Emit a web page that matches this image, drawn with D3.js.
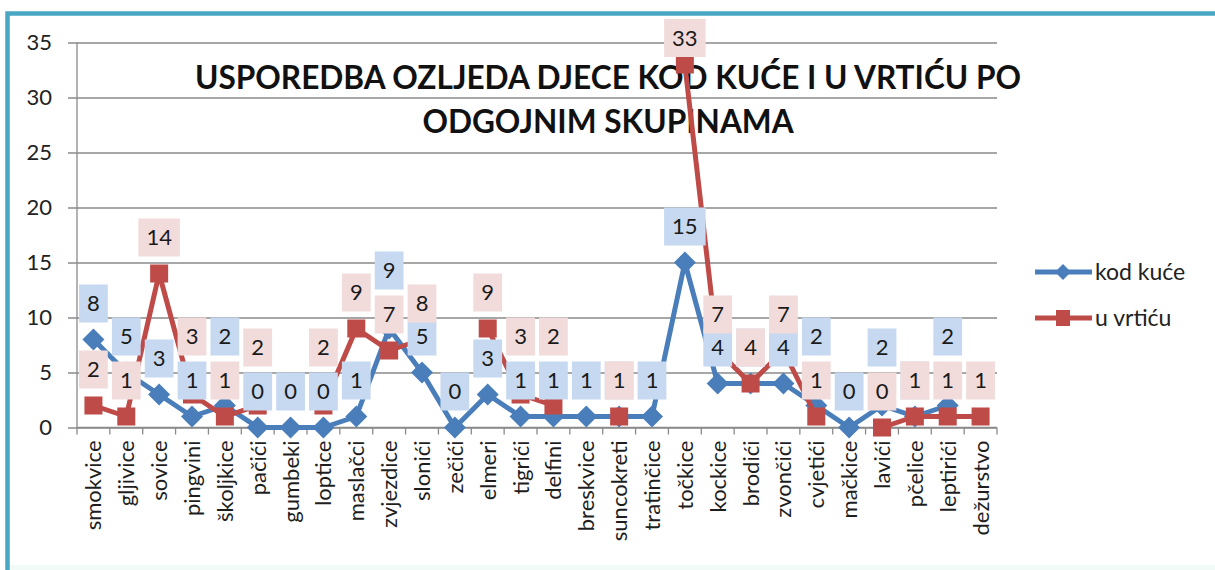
<!DOCTYPE html>
<html>
<head>
<meta charset="utf-8">
<script src="https://cdn.jsdelivr.net/npm/d3@7"></script>
<style>
  html, body { margin: 0; padding: 0; background: #ffffff; }
  svg { display: block; }
  text { font-family: Lato, "Open Sans", "DejaVu Sans", sans-serif; }
</style>
</head>
<body>
<svg id="chart" width="1215" height="570"></svg>
<script>
const categories = ["smokvice","gljivice","sovice","pingvini","školjkice","pačići","gumbeki","loptice","maslačci","zvjezdice","slonići","zečići","elmeri","tigrići","delfini","breskvice","suncokreti","tratinčice","točkice","kockice","brodići","zvončići","cvjetići","mačkice","lavići","pčelice","leptirići","dežurstvo"];
const kodKuce = [8,5,3,1,2,0,0,0,1,9,5,0,3,1,1,1,1,1,15,4,4,4,2,0,2,1,2,null];
const uVrticu = [2,1,14,3,1,2,null,2,9,7,8,null,9,3,2,null,1,null,33,7,4,7,1,null,0,1,1,1];
const yTicks = [0,5,10,15,20,25,30,35];
const seriesNames = ["kod kuće","u vrtiću"];
const titleLines = ["USPOREDBA OZLJEDA DJECE KOD KUĆE I U VRTIĆU PO","ODGOJNIM SKUPINAMA"];

const W = 1215, H = 570;
const plot = {left: 77, right: 997, top: 42.5, bottom: 427.5};
const blue = "#4A7EBB", red = "#BE4B48";
const blueLbl = "#C6D9F0", redLbl = "#F2DCDB";

const svg = d3.select("#chart");

// background + frame
svg.append("rect").attr("x",0).attr("y",0).attr("width",W).attr("height",H).attr("fill","#ffffff");
svg.append("rect").attr("x",8).attr("y",565).attr("width",W).attr("height",10).attr("fill","#f1faf6");

const x = d3.scaleBand().domain(categories).range([plot.left, plot.right]).padding(0);
const y = d3.scaleLinear().domain([0,35]).range([plot.bottom, plot.top]);
const cx = c => x(c) + x.bandwidth()/2;

// gridlines
const yAxis = d3.axisLeft(y).tickValues(yTicks).tickSize(plot.right - plot.left + 9).tickPadding(16).tickFormat(d3.format("d"));
const gy = svg.append("g").attr("transform", `translate(${plot.right},0)`).call(yAxis);
gy.select(".domain").remove();
gy.selectAll(".tick line").attr("stroke","#8a8a8a").attr("stroke-width",1.3);
gy.selectAll(".tick text").attr("font-size",22).attr("fill","#222").attr("x", -(plot.right-plot.left) - 25);

// y axis line
svg.append("line").attr("x1",plot.left).attr("x2",plot.left).attr("y1",plot.top).attr("y2",plot.bottom)
  .attr("stroke","#8a8a8a").attr("stroke-width",1.3);

// x axis with ticks at boundaries
const gx = svg.append("g");
gx.append("line").attr("x1",plot.left).attr("x2",plot.right).attr("y1",plot.bottom).attr("y2",plot.bottom)
  .attr("stroke","#8a8a8a").attr("stroke-width",1.3);
const bounds = categories.map(c => x(c)).concat([plot.right]);
gx.selectAll("line.tk").data(bounds).join("line").attr("class","tk")
  .attr("x1",d=>d).attr("x2",d=>d).attr("y1",plot.bottom).attr("y2",plot.bottom+7)
  .attr("stroke","#8a8a8a").attr("stroke-width",1.3);
gx.selectAll("text").data(categories).join("text")
  .attr("transform", d => `translate(${cx(d)+8},${plot.bottom+13}) rotate(-90)`)
  .attr("text-anchor","end").attr("font-size",22).attr("fill","#1e1e1e").text(d=>d);

// title
const tg = svg.append("g");
const t1 = tg.append("text").attr("x",608).attr("y",89).attr("text-anchor","middle")
  .attr("font-size",32).attr("font-weight","bold").attr("fill","#111").text(titleLines[0]);
const t2 = tg.append("text").attr("x",608).attr("y",133).attr("text-anchor","middle")
  .attr("font-size",32).attr("font-weight","bold").attr("fill","#111").text(titleLines[1]);
const w1 = t1.node().getComputedTextLength(), w2 = t2.node().getComputedTextLength();
const r = 826 / w1;
t1.attr("textLength", w1*r).attr("lengthAdjust","spacingAndGlyphs");
t2.attr("textLength", w2*r).attr("lengthAdjust","spacingAndGlyphs");

// lines
const line = d3.line().defined(d => d.v != null).x(d => cx(d.c)).y(d => y(d.v));
const bData = categories.map((c,i)=>({c, v: kodKuce[i]}));
const rData = categories.map((c,i)=>({c, v: uVrticu[i]}));

svg.append("path").datum(bData).attr("d",line).attr("fill","none").attr("stroke",blue).attr("stroke-width",5).attr("stroke-linejoin","round");
svg.selectAll("path.dia").data(bData.filter(d=>d.v!=null)).join("path").attr("class","dia")
  .attr("d", "M0,-11L11,0L0,11L-11,0Z")
  .attr("transform", d => `translate(${cx(d.c)},${y(d.v)})`)
  .attr("fill",blue);

svg.append("path").datum(rData).attr("d",line).attr("fill","none").attr("stroke",red).attr("stroke-width",5).attr("stroke-linejoin","round");
svg.selectAll("rect.sq").data(rData.filter(d=>d.v!=null)).join("rect").attr("class","sq")
  .attr("x", d => cx(d.c)-9).attr("y", d => y(d.v)-9).attr("width",18).attr("height",18).attr("fill",red);

// data labels with simple overlap avoidance
const lblPos = categories.map((c,i)=>{
  const b = kodKuce[i], rv = uVrticu[i];
  let yb = b!=null ? y(b)-36 : null, yr = rv!=null ? y(rv)-36 : null;
  if (b!=null && rv!=null && b!==rv && Math.abs(yb-yr) < 30) {
    if (b > rv) yb = yr - 44; else yr = yb - 44;
  }
  if (yb!=null) yb = Math.max(yb, 38);
  if (yr!=null) yr = Math.max(yr, 38);
  return {c, b, rv, yb, yr};
});

function drawLabels(key, ykey, fill) {
  const g = svg.append("g");
  const items = lblPos.filter(d => d[key]!=null);
  const gs = g.selectAll("g").data(items).join("g").attr("transform", d => `translate(${cx(d.c)},${d[ykey]})`);
  gs.append("rect").attr("fill",fill).attr("y",-19).attr("height",38);
  gs.append("text").attr("text-anchor","middle").attr("dy","0.36em").attr("font-size",22).attr("fill","#1a1a1a").text(d=>d[key]);
  gs.each(function(){
    const t = d3.select(this).select("text").node().getComputedTextLength();
    d3.select(this).select("rect").attr("x", -(t/2+8)).attr("width", t+16);
  });
}
drawLabels("b","yb",blueLbl);
drawLabels("rv","yr",redLbl);

// frame on top (clips label at the top edge)
svg.append("rect").attr("x",0).attr("y",0).attr("width",W).attr("height",11.5).attr("fill","#ffffff");
svg.append("rect").attr("x",7.5).attr("y",13.5).attr("width",W+20).attr("height",H+20)
  .attr("fill","none").attr("stroke","#4AA7C3").attr("stroke-width",4.5);

// legend
const lg = svg.append("g");
const legendRows = [{name: seriesNames[0], color: blue, shape:"d", y: 272},{name: seriesNames[1], color: red, shape:"s", y: 318}];
legendRows.forEach(rw => {
  lg.append("line").attr("x1",1035).attr("x2",1092).attr("y1",rw.y).attr("y2",rw.y).attr("stroke",rw.color).attr("stroke-width",5);
  if (rw.shape==="d") lg.append("path").attr("d","M0,-8L8,0L0,8L-8,0Z").attr("transform",`translate(1063,${rw.y})`).attr("fill",rw.color);
  else lg.append("rect").attr("x",1056).attr("y",rw.y-8).attr("width",14).attr("height",16).attr("fill",rw.color);
  lg.append("text").attr("x",1095).attr("y",rw.y).attr("dy","0.35em").attr("font-size",23).attr("fill","#222").text(rw.name);
});
</script>
</body>
</html>
